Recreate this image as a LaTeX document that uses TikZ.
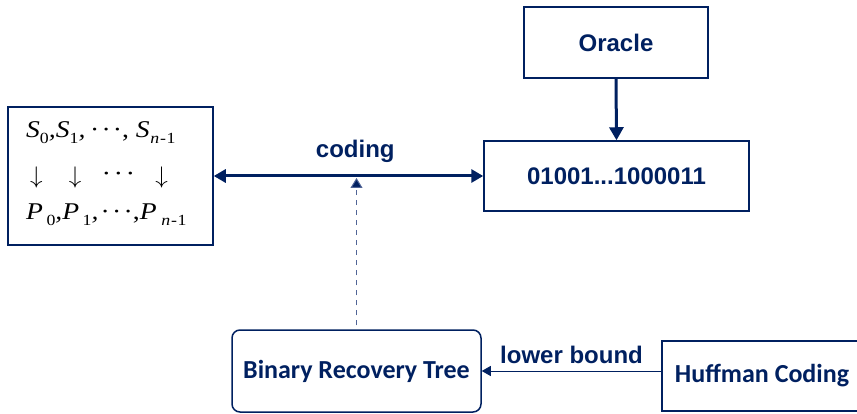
\documentclass[tikz,border=0pt]{standalone}
\usepackage{graphicx}
\usepackage{fontspec}
\newfontfamily\arialfont{Liberation Sans}
\newfontfamily\calfont{Carlito}
\newfontfamily\tnrfont{Liberation Serif}
\newcommand\lowsub[1]{\raisebox{-0.22em}{\fontsize{15.5}{15.5}\selectfont\upshape #1}}
\newcommand\nmo{\lowsub{\itshape n\kern0.8pt\upshape -\kern0.5pt1}}
\newcommand\tdots{\upshape ·\kern2pt·\kern2pt·}
\usetikzlibrary{arrows.meta}
\definecolor{navy}{RGB}{0,32,96}
\definecolor{dashc}{RGB}{80,100,150}
\begin{document}
\begin{tikzpicture}[x=1pt,y=-1pt,
  box/.style={draw=navy, line width=1.5pt, inner sep=0pt},
  rbox/.style={box, rounded corners=8pt},
  arialtxt/.style={text=navy, font=\arialfont\bfseries\fontsize{24}{28}\selectfont},
  caltxt/.style={text=navy, font=\calfont\bfseries\fontsize{26}{30}\selectfont},
  mathtxt/.style={inner sep=0pt, font=\tnrfont\fontsize{24}{27}\selectfont},
  thickarrow/.style={draw=navy, line width=3pt, -{Triangle[length=13pt,width=14pt]}},
  bothArrow/.style={draw=navy, line width=3pt, {Triangle[length=12pt,width=13pt]}-{Triangle[length=12pt,width=13pt]}},
  dasharrow/.style={draw=dashc, line width=1pt, dash pattern=on 5pt off 5pt, -{Triangle[length=10pt,width=12pt,fill=navy]}},
  thinarrow/.style={draw=navy, line width=1pt, -{Triangle[length=9pt,width=10pt]}}
]
\useasboundingbox (0,0) rectangle (857,414);
% left box
\node[box, minimum width=205, minimum height=138] (lbox) at (110.5,176) {};
\node[mathtxt, anchor=base west] (row1) at (26,138)
  {\scalebox{1.15}[1]{\itshape S\lowsub{0},S\lowsub{1},\kern4pt\tdots, \itshape S\kern0.5pt\nmo}};
\node[inner sep=0pt] (a1) at (36.5,177.5) {\scalebox{2.5}[2.4]{$\downarrow$}};
\node[inner sep=0pt] (a2) at (75,177.5) {\scalebox{2.5}[2.4]{$\downarrow$}};
\node[mathtxt] (a3) at (118.5,177) {\scalebox{1.2}[1]{\tdots}};
\node[inner sep=0pt] (a4) at (161.5,177.5) {\scalebox{2.5}[2.4]{$\downarrow$}};
\node[mathtxt, anchor=base west] (row3) at (26,220)
  {\scalebox{1.15}[1]{\itshape P\kern3pt\lowsub{0},P\kern3pt\lowsub{1},\kern2pt\tdots,\itshape P\kern4pt\nmo}};
% right boxes
\node[box, arialtxt, minimum width=184, minimum height=71] (oracle) at (616,42.5) {Oracle};
\node[box, arialtxt, minimum width=265, minimum height=70] (bits) at (616.5,176) {01001...1000011};
\node[rbox, caltxt, minimum width=249, minimum height=82] (brt) at (356.5,371) {Binary Recovery Tree};
\node[box, caltxt, minimum width=200, minimum height=70] (huff) at (762,376) {Huffman Coding};
% connectors
\draw[bothArrow] (lbox.east) -- (bits.west)
  node[pos=0.525, above=12pt, inner sep=0pt, arialtxt] (codlab) {coding};
\draw[thickarrow] (oracle.south) -- (bits.north);
\coordinate (hit) at (brt.north |- bits.west);
\draw[dasharrow] ([yshift=4pt]brt.north) -- ([yshift=-2pt]hit);
\draw[thinarrow] (huff.west |- brt.east) -- (brt.east)
  node[midway, above=7pt, inner sep=0pt, arialtxt] (lblab) {lower bound};
\end{tikzpicture}
\end{document}
